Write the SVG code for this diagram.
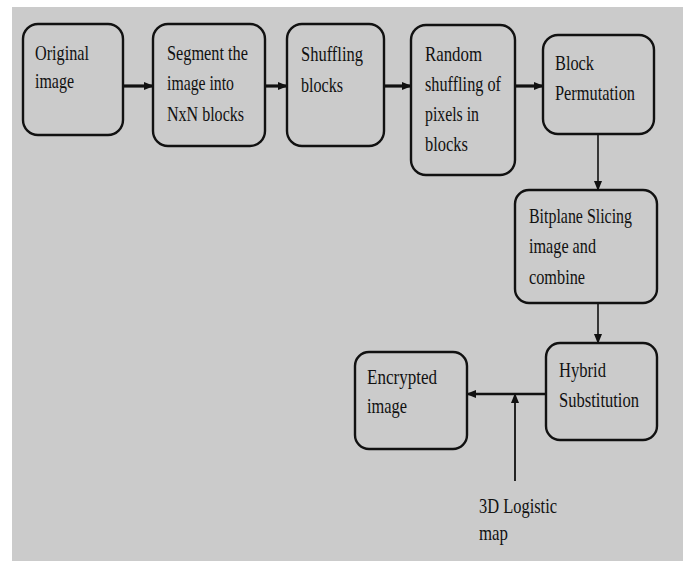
<svg xmlns="http://www.w3.org/2000/svg" width="683" height="561" viewBox="0 0 683 561" font-family="Liberation Serif" font-size="22">
<style>
.node rect{fill:#cbcbcb;stroke:#111;stroke-width:2.4}
.conn line{stroke:#111}
</style>
<defs>
<marker id="ah" markerUnits="userSpaceOnUse" markerWidth="10" markerHeight="10" viewBox="0 0 10 10" refX="9" refY="5" orient="auto">
<path d="M0,1 L10,5 L0,9 Z" fill="#111"/>
</marker>
</defs>
<rect x="12" y="7" width="671" height="554" fill="#cbcbcb"/>
<g id="connectors" class="conn">
<line x1="123" y1="86" x2="153" y2="86" stroke-width="3.2" marker-end="url(#ah)"/>
<line x1="265" y1="86" x2="287" y2="86" stroke-width="3.2" marker-end="url(#ah)"/>
<line x1="384" y1="86" x2="411" y2="86" stroke-width="3.2" marker-end="url(#ah)"/>
<line x1="515" y1="86" x2="543" y2="86" stroke-width="3.2" marker-end="url(#ah)"/>
<line x1="598" y1="134" x2="598" y2="190" stroke-width="1.6" marker-end="url(#ah)"/>
<line x1="598" y1="303" x2="598" y2="343" stroke-width="1.6" marker-end="url(#ah)"/>
<line x1="546" y1="394" x2="467" y2="394" stroke-width="2.6" marker-end="url(#ah)"/>
<line x1="515" y1="481" x2="515" y2="394" stroke-width="1.8" marker-end="url(#ah)"/>
</g>
<g fill="#111">
<g id="n1" class="node">
<rect x="23" y="24" width="100" height="111" rx="15"/>
<text x="35" y="60" textLength="54" lengthAdjust="spacingAndGlyphs">Original</text>
<text x="35" y="88" textLength="39" lengthAdjust="spacingAndGlyphs">image</text>
</g>
<g id="n2" class="node">
<rect x="153" y="24" width="112" height="122" rx="15"/>
<text x="167" y="60" textLength="81" lengthAdjust="spacingAndGlyphs">Segment the</text>
<text x="167" y="90" textLength="67" lengthAdjust="spacingAndGlyphs">image into</text>
<text x="167" y="121" textLength="77" lengthAdjust="spacingAndGlyphs">NxN blocks</text>
</g>
<g id="n3" class="node">
<rect x="287" y="24" width="97" height="122" rx="15"/>
<text x="301" y="61" textLength="62" lengthAdjust="spacingAndGlyphs">Shuffling</text>
<text x="301" y="92" textLength="42" lengthAdjust="spacingAndGlyphs">blocks</text>
</g>
<g id="n4" class="node">
<rect x="411" y="25" width="104" height="150" rx="15"/>
<text x="425" y="61" textLength="57" lengthAdjust="spacingAndGlyphs">Random</text>
<text x="425" y="91" textLength="76" lengthAdjust="spacingAndGlyphs">shuffling of</text>
<text x="425" y="121" textLength="54" lengthAdjust="spacingAndGlyphs">pixels in</text>
<text x="425" y="151" textLength="43" lengthAdjust="spacingAndGlyphs">blocks</text>
</g>
<g id="n5" class="node">
<rect x="543" y="35" width="111" height="99" rx="15"/>
<text x="555" y="70" textLength="39" lengthAdjust="spacingAndGlyphs">Block</text>
<text x="555" y="100" textLength="80" lengthAdjust="spacingAndGlyphs">Permutation</text>
</g>
<g id="n6" class="node">
<rect x="515" y="190" width="142" height="113" rx="14"/>
<text x="529" y="223" textLength="103" lengthAdjust="spacingAndGlyphs">Bitplane Slicing</text>
<text x="529" y="253" textLength="67" lengthAdjust="spacingAndGlyphs">image and</text>
<text x="529" y="284" textLength="56" lengthAdjust="spacingAndGlyphs">combine</text>
</g>
<g id="n7" class="node">
<rect x="546" y="343" width="111" height="97" rx="14"/>
<text x="559" y="377" textLength="47" lengthAdjust="spacingAndGlyphs">Hybrid</text>
<text x="559" y="407" textLength="80" lengthAdjust="spacingAndGlyphs">Substitution</text>
</g>
<g id="n8" class="node">
<rect x="355" y="352" width="112" height="97" rx="14"/>
<text x="367" y="384" textLength="70" lengthAdjust="spacingAndGlyphs">Encrypted</text>
<text x="367" y="413" textLength="40" lengthAdjust="spacingAndGlyphs">image</text>
</g>
<g id="n9">
<text x="479" y="513" textLength="78" lengthAdjust="spacingAndGlyphs">3D Logistic</text>
<text x="479" y="540" textLength="29" lengthAdjust="spacingAndGlyphs">map</text>
</g>
</g>
</svg>
